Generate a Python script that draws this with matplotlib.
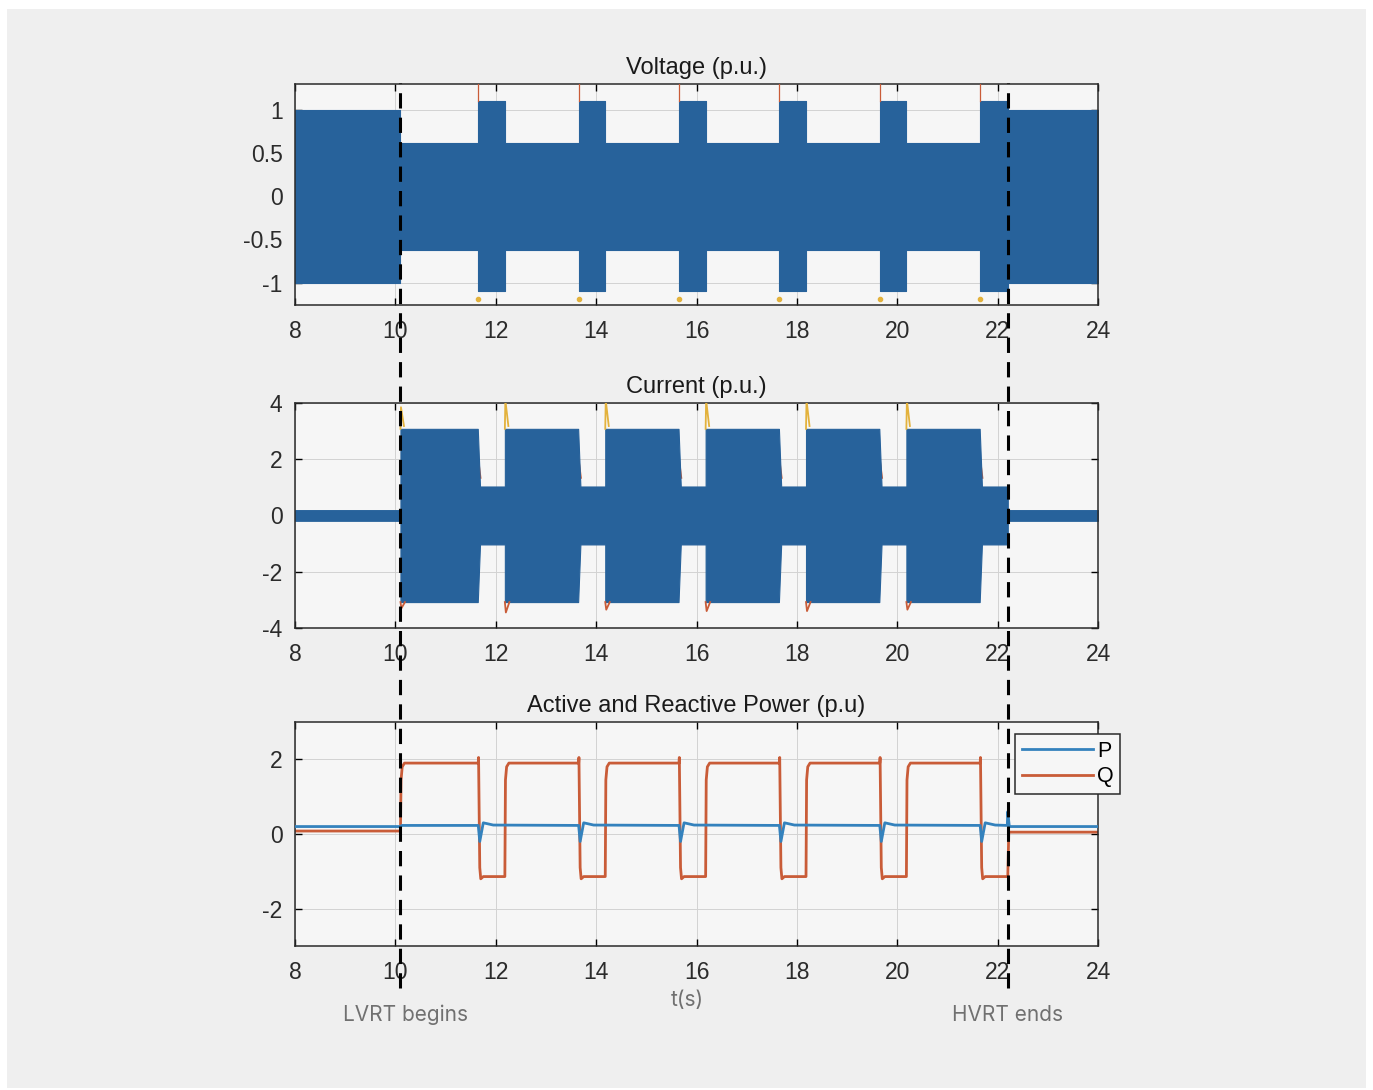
"""LVRT / HVRT ride-through test: grid voltage, converter current and P/Q."""
import matplotlib
matplotlib.use('Agg')
import matplotlib.pyplot as plt
import matplotlib.transforms as mtransforms
from matplotlib.lines import Line2D
from matplotlib.patches import Rectangle

# ---- event times (s) ----
T_MIN, T_MAX = 8, 24
T_SAG_ON = [10.1, 12.18, 14.18, 16.18, 18.18, 20.18]      # low-voltage periods start
T_SWELL_ON = [11.65, 13.65, 15.65, 17.65, 19.65, 21.65]   # high-voltage periods start
T_END = 22.2                                              # HVRT ends

# ---- voltage envelope (p.u.) ----
V_PRE, V_LOW, V_HIGH, V_POST = 1.0, 0.62, 1.1, 1.0
V_SPIKE_TOP, V_SPIKE_BOT = 1.3, -1.19

# ---- current envelope (p.u.) ----
I_PRE, I_LVRT, I_HVRT, I_POST = 0.19, 3.08, 1.03, 0.19
I_SPIKE_UP = [3.85, 4.1, 4.1, 4.1, 4.1, 4.1]
I_SPIKE_DN = [-3.3, -3.45, -3.35, -3.4, -3.4, -3.35]

# ---- active / reactive power (p.u.) ----
P_PRE, P_FAULT, P_POST, P_END_SPIKE = 0.2, 0.23, 0.2, 0.6
Q_PRE, Q_LVRT, Q_HVRT, Q_POST = 0.08, 1.9, -1.14, 0.05
# transient shapes, offsets from the event time
Q_SAG_DT = [0.012, 0.035, 0.08]
Q_SAG_VAL = [1.45, 1.8, 1.9]
Q_SWELL_DT = [0.0, 0.006, 0.03, 0.05, 0.1]
Q_SWELL_VAL = [1.9, 2.05, -0.9, -1.2, -1.14]
P_SWELL_DT = [0.0, 0.03, 0.1, 0.3]
P_SWELL_VAL = [0.23, -0.2, 0.3, 0.24]

BAND = '#27629b'
C_P = '#3482bd'
C_Q = '#c95c38'
C_Y = '#e3b23c'
BG = '#efefef'

plt.rcParams['font.family'] = ['Liberation Sans', 'DejaVu Sans']
plt.rcParams['axes.unicode_minus'] = False


def voltage_envelope():
    t, a = [T_MIN, T_SAG_ON[0]], [V_PRE, V_PRE]
    for i, s in enumerate(T_SAG_ON):
        h = T_SWELL_ON[i]
        t += [s, h, h]
        a += [V_LOW, V_LOW, V_HIGH]
        nxt = T_SAG_ON[i + 1] if i + 1 < len(T_SAG_ON) else T_END
        t.append(nxt)
        a.append(V_HIGH)
    t += [T_END, T_MAX]
    a += [V_POST, V_POST]
    return t, a


def current_envelope():
    t, a = [T_MIN, T_SAG_ON[0]], [I_PRE, I_PRE]
    for i, s in enumerate(T_SAG_ON):
        h = T_SWELL_ON[i]
        t += [s, h - 0.01, h + 0.035]
        a += [I_LVRT, I_LVRT, I_HVRT]
        nxt = T_SAG_ON[i + 1] if i + 1 < len(T_SAG_ON) else T_END
        t.append(nxt)
        a.append(I_HVRT)
    t += [T_END, T_MAX]
    a += [I_POST, I_POST]
    return t, a


def q_series():
    t, q = [T_MIN], [Q_PRE]
    for i, s in enumerate(T_SAG_ON):
        t.append(s)
        q.append(Q_PRE if i == 0 else Q_HVRT)
        t += [s + d for d in Q_SAG_DT]
        q += Q_SAG_VAL
        h = T_SWELL_ON[i]
        t += [h + d for d in Q_SWELL_DT]
        q += Q_SWELL_VAL
    t += [T_END, T_END + 0.02, T_MAX]
    q += [Q_HVRT, Q_POST, Q_POST]
    return t, q


def p_series():
    t, p = [T_MIN, T_SAG_ON[0], T_SAG_ON[0] + 0.03], [P_PRE, P_PRE, P_FAULT]
    for h in T_SWELL_ON:
        t += [h + d for d in P_SWELL_DT]
        p += P_SWELL_VAL
    t += [T_END - 0.01, T_END, T_END + 0.03, T_MAX]
    p += [P_FAULT, P_END_SPIKE, P_POST, P_POST]
    return t, p


def style(ax, ylim, yticks, yticklabels, title):
    ax.set_facecolor('#f6f6f6')
    ax.set_xlim(T_MIN, T_MAX)
    ax.set_ylim(*ylim)
    ax.set_xticks(range(8, 25, 2))
    ax.set_yticks(yticks)
    ax.set_yticklabels(yticklabels)
    ax.grid(True, color='#d2d2d2', lw=0.7)
    ax.set_axisbelow(True)
    ax.tick_params(direction='in', top=True, right=True, length=5, width=1,
                   labelsize=16.5, labelcolor='#2b2b2b', pad=9)
    ax.tick_params(axis='x', pad=11)
    for sp in ax.spines.values():
        sp.set_color('#2a2a2a')
        sp.set_linewidth(1.1)
    ax.set_title(title, fontsize=17, color='#1a1a1a', pad=7)


fig = plt.figure(figsize=(13.73, 10.90), dpi=100)
fig.patch.set_facecolor('white')
fig.add_artist(Rectangle((7 / 1373, 2 / 1090), 1359 / 1373, 1079 / 1090,
                         transform=fig.transFigure, facecolor=BG, edgecolor='none', zorder=-10))

ax_v = fig.add_axes([0.2149, 0.7202, 0.5849, 0.2028])
ax_i = fig.add_axes([0.2149, 0.4239, 0.5849, 0.2064])
ax_p = fig.add_axes([0.2149, 0.1321, 0.5849, 0.2055])

# voltage
tv, av = voltage_envelope()
ax_v.fill_between(tv, [-x for x in av], av, color=BAND, lw=0.8, edgecolor=BAND, zorder=2)
for h in T_SWELL_ON:
    ax_v.plot([h, h], [V_HIGH, V_SPIKE_TOP], color=C_Q, lw=0.9, zorder=3)
    ax_v.plot([h], [V_SPIKE_BOT], 'o', ms=3, color=C_Y, zorder=3)
style(ax_v, (-1.26, 1.3), [-1, -0.5, 0, 0.5, 1], ['-1', '-0.5', '0', '0.5', '1'], 'Voltage (p.u.)')

# current
ti, ai = current_envelope()
ax_i.fill_between(ti, [-x for x in ai], ai, color=BAND, lw=0.8, edgecolor=BAND, zorder=2)
for s, up, dn in zip(T_SAG_ON, I_SPIKE_UP, I_SPIKE_DN):
    ax_i.plot([s, s + 0.01, s + 0.07], [I_LVRT, up, I_LVRT + 0.1], color=C_Y, lw=1.3, zorder=3)
    ax_i.plot([s, s + 0.02, s + 0.09], [-I_LVRT, dn, -I_LVRT], color=C_Q, lw=1.3, zorder=3)
for h in T_SWELL_ON:
    ax_i.plot([h - 0.01, h + 0.05], [2.2, I_HVRT + 0.3], color=C_Q, lw=1.0, zorder=1.5)
style(ax_i, (-4, 4), [-4, -2, 0, 2, 4], ['-4', '-2', '0', '2', '4'], 'Current (p.u.)')

# power
tq, q = q_series()
tp, p = p_series()
ax_p.plot(tp, p, color=C_P, lw=2.0, label='P', zorder=3)
ax_p.plot(tq, q, color=C_Q, lw=2.0, label='Q', zorder=2)
style(ax_p, (-3, 3), [-2, 0, 2], ['-2', '0', '2'], 'Active and Reactive Power (p.u)')
leg = ax_p.legend(loc='upper left', bbox_to_anchor=(0.897, 0.945), fontsize=15.5,
                  handlelength=3.3, handletextpad=0.2, borderpad=0.3, labelspacing=0.2,
                  borderaxespad=0, fancybox=False, framealpha=1, facecolor='#f6f6f6',
                  edgecolor='#2a2a2a')
leg.get_frame().set_linewidth(1.1)

# event markers spanning all panels
for t_ev in (T_SAG_ON[0], T_END):
    tr = mtransforms.blended_transform_factory(ax_p.transData, fig.transFigure)
    fig.add_artist(Line2D([t_ev, t_ev], [0.094, 0.924], transform=tr, color='black',
                          lw=2.2, linestyle=(0, (5, 3)), zorder=20))

tr = mtransforms.blended_transform_factory(ax_p.transData, fig.transFigure)
lbl = dict(fontsize=15, color='#707070', family=['Inter', 'DejaVu Sans'], ha='center', va='center')
fig.text(T_SAG_ON[0] + 0.1, 0.0688, 'LVRT begins', transform=tr, **lbl)
fig.text(T_END, 0.0688, 'HVRT ends', transform=tr, **lbl)
fig.text(687 / 1373, 0.0826, 't(s)', **lbl)

fig.savefig('out.png', dpi=100, facecolor=fig.get_facecolor())
